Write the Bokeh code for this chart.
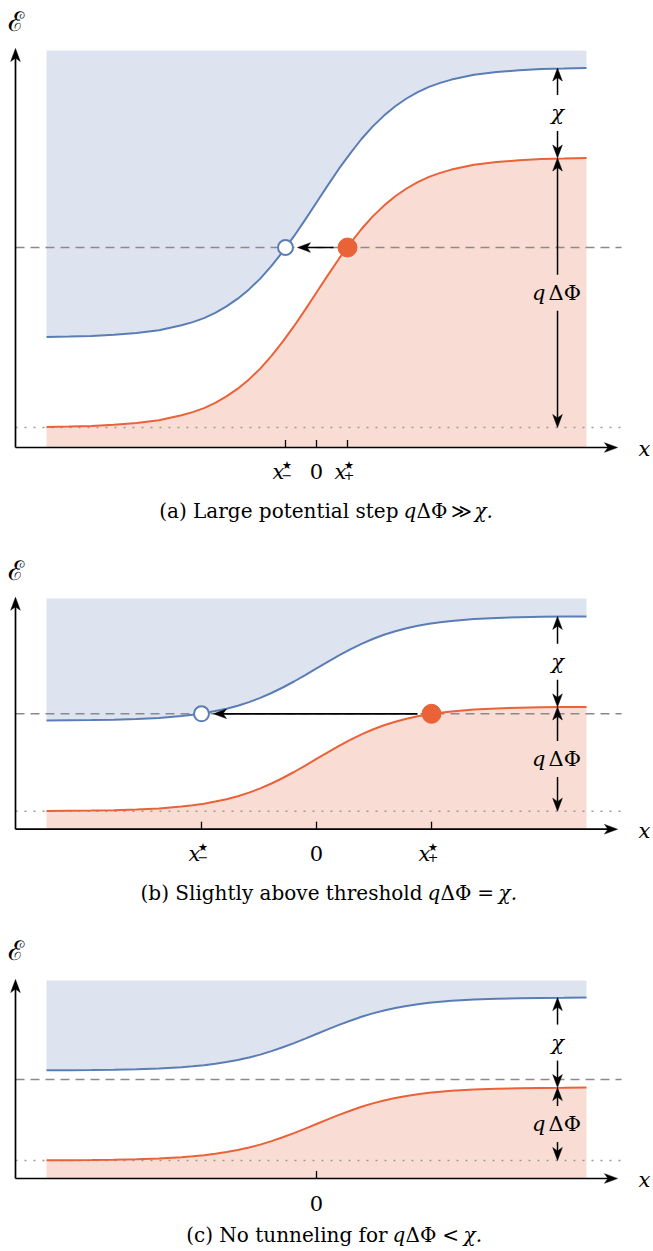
import numpy as np
from bokeh.plotting import figure
from bokeh.layouts import column
from bokeh.models import Range1d
from bokeh.core.properties import value
from bokeh.embed import file_html
from bokeh.resources import INLINE

# ---------------- data ----------------
X_POS = [-6.0, -5.5, -5.0, -4.5, -4.0, -3.5, -3.0, -2.75, -2.5, -2.25, -2.0, -1.75, -1.5,
         -1.25, -1.0, -0.75, -0.5, -0.25, 0.0, 0.25, 0.5, 0.75, 1.0, 1.25, 1.5, 1.75,
         2.0, 2.25, 2.5, 2.75, 3.0, 3.5, 4.0, 4.5, 5.0, 5.5, 6.0]

# panel (a): large potential step
RED_A = [2.05, 2.10, 2.16, 2.27, 2.46, 2.73, 3.22, 3.54, 3.94, 4.47, 5.11, 5.88, 6.81,
         7.89, 9.16, 10.58, 12.13, 13.79, 15.50, 17.21, 18.88, 20.42, 21.85, 23.11, 24.19, 25.12,
         25.90, 26.53, 27.06, 27.46, 27.79, 28.27, 28.54, 28.73, 28.84, 28.89, 28.95]
BLUE_A = [11.05, 11.10, 11.16, 11.27, 11.46, 11.73, 12.22, 12.54, 12.94, 13.47, 14.11, 14.88, 15.81,
          16.89, 18.16, 19.58, 21.13, 22.79, 24.50, 26.21, 27.88, 29.42, 30.85, 32.11, 33.19, 34.12,
          34.90, 35.53, 36.06, 36.46, 36.79, 37.27, 37.54, 37.73, 37.84, 37.89, 37.95]
# panel (b): slightly above threshold
RED_B = [1.82, 1.84, 1.86, 1.90, 1.98, 2.08, 2.27, 2.40, 2.55, 2.76, 3.00, 3.30, 3.66,
         4.08, 4.57, 5.12, 5.72, 6.36, 7.03, 7.69, 8.33, 8.93, 9.48, 9.97, 10.39, 10.75,
         11.05, 11.29, 11.50, 11.65, 11.78, 11.97, 12.07, 12.15, 12.19, 12.21, 12.23]
BLUE_B = [10.87, 10.89, 10.91, 10.95, 11.03, 11.13, 11.32, 11.45, 11.60, 11.81, 12.05, 12.35, 12.71,
          13.13, 13.62, 14.17, 14.77, 15.41, 16.08, 16.74, 17.38, 17.98, 18.53, 19.02, 19.44, 19.80,
          20.10, 20.34, 20.55, 20.70, 20.83, 21.02, 21.12, 21.20, 21.24, 21.26, 21.28]
# panel (c): no tunneling
RED_C = [1.82, 1.83, 1.84, 1.87, 1.92, 2.00, 2.13, 2.22, 2.33, 2.47, 2.64, 2.85, 3.10,
         3.39, 3.74, 4.12, 4.54, 4.99, 5.45, 5.91, 6.36, 6.78, 7.17, 7.51, 7.80, 8.05,
         8.26, 8.43, 8.57, 8.68, 8.77, 8.90, 8.98, 9.03, 9.06, 9.07, 9.09]
BLUE_C = [10.82, 10.83, 10.84, 10.87, 10.92, 11.00, 11.13, 11.22, 11.33, 11.47, 11.64, 11.85, 12.10,
          12.39, 12.74, 13.12, 13.54, 13.99, 14.45, 14.91, 15.36, 15.78, 16.17, 16.51, 16.80, 17.05,
          17.26, 17.43, 17.57, 17.68, 17.77, 17.90, 17.98, 18.03, 18.06, 18.07, 18.09]

TOP_LEVELS = [39.7, 23.07, 19.8]        # upper edge of the shaded band
DASH_LEVELS = [20.0, 11.54, 9.9]        # electron energy (dashed)
DOT_LEVELS = [2.0, 1.8, 1.8]            # reference level (dotted)
TURN_POINTS = [(-0.689, 0.689), (-2.556, 2.556), None]   # x*_-, x*_+
TICKS = [[-0.689, 0.0, 0.689], [-2.556, 0.0, 2.556], [0.0]]
TICK_LABELS = [[("x", "★", "−"), ("0", "", ""), ("x", "★", "+")],
               [("x", "★", "−"), ("0", "", ""), ("x", "★", "+")],
               [("0", "", "")]]
CAPTIONS = [("(a) Large potential step", "≫"),
            ("(b) Slightly above threshold", "="),
            ("(c) No tunneling for", "<")]
CAPTION_END_X = [1.822, 2.356, 1.58]     # where the words end (x units)
CAPTION_Y = [-6.3, -6.33, -5.6]
TICK_LABEL_Y = [-2.35, -2.4, -2.5]
Y_RANGES = [(-8.1, 44.7), (-7.93, 30.07), (-7.3, 27.0)]
HEIGHTS = [528, 380, 343]
YAXIS_TOP = [39.9, 23.2, 19.9]
ELABEL_Y = [42.6, 25.9, 22.8]

# ---------------- style ----------------
BLUE = "#5b7db6"
BLUE_FILL = "#dee4ef"
RED = "#ea6237"
RED_FILL = "#f9ddd5"
GREY_DASH = "#8a8a8a"
GREY_DOT = "#9a9a9a"
W = 653
X_RANGE = (-7.0222, 7.4889)
AXIS_X = -6.689
AXIS_END = 6.689
LINE_END = 6.78
MEAS_X = 5.356
SERIF = value("DejaVu Serif")


def head(p, xt, yt, ux, uy, sx, sy, L=13.0, Wd=4.8, N=9.5):
    nx, ny = -uy, ux
    pts = [(0, 0), (-L * ux + Wd * nx, -L * uy + Wd * ny), (-N * ux, -N * uy),
           (-L * ux - Wd * nx, -L * uy - Wd * ny)]
    xs = [xt + a / sx for a, b in pts]
    ys = [yt + b / sy for a, b in pts]
    p.patch(xs, ys, fill_color="black", line_color="black", line_width=0.5)


def arrow(p, x0, y0, x1, y1, sx, sy, lw=1.5):
    dxp, dyp = (x1 - x0) * sx, (y1 - y0) * sy
    n = (dxp ** 2 + dyp ** 2) ** 0.5
    ux, uy = dxp / n, dyp / n
    p.segment(x0, y0, x1 - 9.5 * ux / sx, y1 - 9.5 * uy / sy, line_color="black", line_width=lw)
    head(p, x1, y1, ux, uy, sx, sy)


def txt(p, x, y, s, size, italic=False, align="center", f=SERIF, **kw):
    p.text([x], [y], text=[s], text_font=f, text_font_size=size,
           text_font_style="italic" if italic else "normal",
           text_align=align, text_baseline="middle", **kw)


def panel(i, red, blue):
    y0, y1 = Y_RANGES[i]
    h = HEIGHTS[i]
    p = figure(width=W, height=h, x_range=Range1d(*X_RANGE), y_range=Range1d(y0, y1),
               output_backend="svg", toolbar_location=None, min_border=0,
               x_axis_type=None, y_axis_type=None)
    p.grid.visible = False
    p.outline_line_color = None
    p.background_fill_color = "white"
    sx = W / (X_RANGE[1] - X_RANGE[0])
    sy = h / (y1 - y0)
    top = TOP_LEVELS[i]

    xs = np.array(X_POS)
    p.varea(x=xs, y1=np.array(blue), y2=np.full(len(xs), top), fill_color=BLUE_FILL)
    p.varea(x=xs, y1=np.zeros(len(xs)), y2=np.array(red), fill_color=RED_FILL)

    p.line([AXIS_X, LINE_END], [DASH_LEVELS[i]] * 2, line_color=GREY_DASH, line_width=1.5,
           line_dash="9 6")
    p.line([AXIS_X, LINE_END], [DOT_LEVELS[i]] * 2, line_color=GREY_DOT, line_width=1.5,
           line_dash="2 7")

    p.line(xs, blue, line_color=BLUE, line_width=2)
    p.line(xs, red, line_color=RED, line_width=2)

    # axes
    arrow(p, AXIS_X, 0, AXIS_X, YAXIS_TOP[i], sx, sy, lw=1.7)
    arrow(p, AXIS_X, 0, AXIS_END, 0, sx, sy, lw=1.7)
    txt(p, -6.667, ELABEL_Y[i], "ℰ", "27px")
    txt(p, 7.289, -0.15, "x", "21px", italic=True)

    # ticks and labels
    ly = TICK_LABEL_Y[i]
    for t, (base, sup, sub) in zip(TICKS[i], TICK_LABELS[i]):
        p.segment(t, 0, t, 0.75, line_color="black", line_width=1.3)
        if sup:
            txt(p, t, ly, base, "21px", italic=True, x_offset=-7, y_offset=1)
            txt(p, t, ly, sup, "11px", f=value("DejaVu Sans"), x_offset=1.5, y_offset=-6)
            txt(p, t, ly, sub, "13px", f=value("DejaVu Sans"), x_offset=1.5, y_offset=4)
        else:
            txt(p, t, ly, base, "21px")

    # measuring arrows
    red_r, blue_r, dot = red[-1], blue[-1], DOT_LEVELS[i]
    mid_chi = (red_r + blue_r) / 2
    mid_phi = (red_r + dot) / 2
    g = 1.8
    arrow(p, MEAS_X, mid_chi + g, MEAS_X, blue_r, sx, sy)
    arrow(p, MEAS_X, mid_chi - g, MEAS_X, red_r, sx, sy)
    arrow(p, MEAS_X, mid_phi + g, MEAS_X, red_r, sx, sy)
    arrow(p, MEAS_X, mid_phi - g, MEAS_X, dot, sx, sy)
    txt(p, MEAS_X, mid_chi, "χ", "21px", italic=True)
    txt(p, MEAS_X, mid_phi, "q", "21px", italic=True, align="right", x_offset=-12)
    txt(p, MEAS_X, mid_phi, "ΔΦ", "21px", align="left", x_offset=-9)

    # tunneling
    tp = TURN_POINTS[i]
    if tp is not None:
        xm, xp = tp
        e = DASH_LEVELS[i]
        arrow(p, xp - 14 / sx, e, xm + 12 / sx, e, sx, sy, lw=1.7)
        p.scatter([xm], [e], size=15, fill_color="white", line_color=BLUE, line_width=2)
        p.scatter([xp], [e], size=19, fill_color=RED, line_color=RED)

    # caption
    words, rel = CAPTIONS[i]
    ex = CAPTION_END_X[i]
    cy = CAPTION_Y[i]
    fs = "20px"
    txt(p, ex, cy, words, fs, align="right")
    txt(p, ex, cy, "q", fs, italic=True, align="left", x_offset=5)
    txt(p, ex, cy, "ΔΦ", fs, align="left", x_offset=18)
    txt(p, ex, cy, rel, fs, align="center", x_offset=63)
    txt(p, ex, cy, "χ.", fs, italic=True, align="left", x_offset=76)
    return p


pa = panel(0, RED_A, BLUE_A)
pb = panel(1, RED_B, BLUE_B)
pc = panel(2, RED_C, BLUE_C)
layout = column(pa, pb, pc, spacing=0)

open("out.html", "w").write(file_html(layout, INLINE))
